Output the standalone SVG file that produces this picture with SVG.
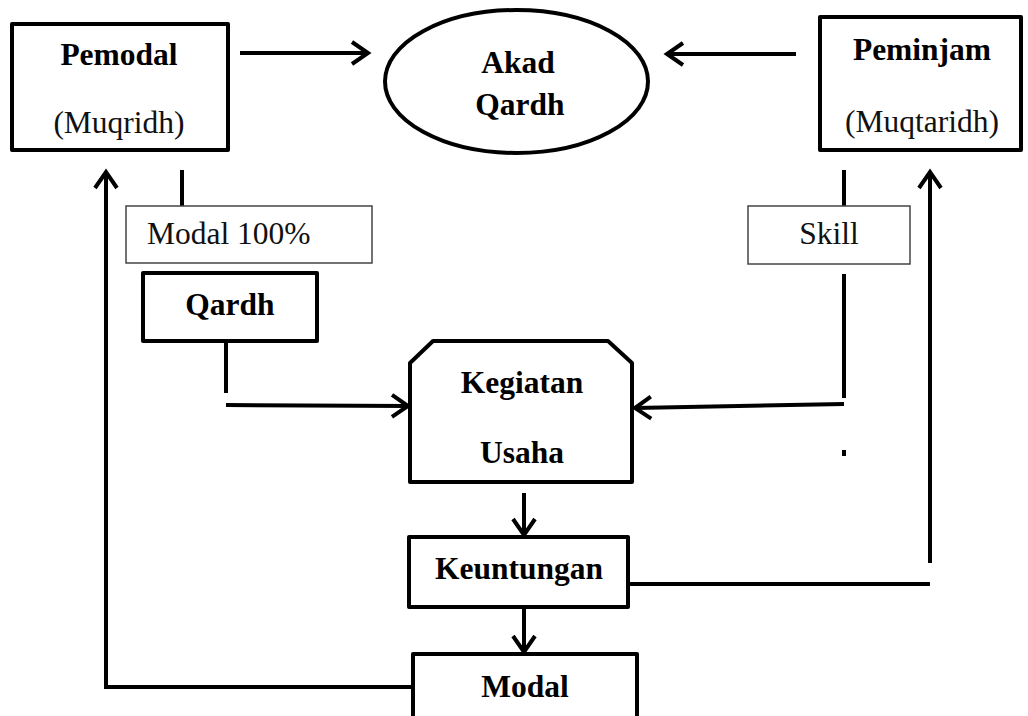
<svg xmlns="http://www.w3.org/2000/svg" width="1028" height="716" viewBox="0 0 1028 716">
<style>
.box{fill:#fff;stroke:#000;stroke-width:4;stroke-linejoin:round}
.thin{fill:#fff;stroke:#444;stroke-width:1.5}
.b{font-family:"Liberation Serif","Times New Roman",serif;font-weight:bold;font-size:31.5px;fill:#000;text-anchor:middle}
.r{font-family:"Liberation Serif","Times New Roman",serif;font-size:31.5px;fill:#111;text-anchor:middle}
.ln{fill:none;stroke:#000;stroke-width:4}
.arr{fill:none;stroke:#000;stroke-width:4;marker-end:url(#ah)}
</style>
<defs>
<marker id="ah" markerUnits="userSpaceOnUse" orient="auto" markerWidth="24" markerHeight="30" viewBox="-20 -15 24 30" refX="0" refY="0">
<path d="M-16,-11 L0,0 L-16,11" fill="none" stroke="#000" stroke-width="4" stroke-linejoin="miter"/>
</marker>
</defs>
<rect width="1028" height="716" fill="#fff"/>
<g id="connectors">
<line class="arr" x1="240" y1="53" x2="368" y2="53"/>
<line class="arr" x1="796" y1="54" x2="667" y2="54"/>
<line class="ln" x1="182" y1="170" x2="182" y2="206"/>
<line class="ln" x1="844" y1="170" x2="844" y2="206"/>
<line class="ln" x1="226" y1="341" x2="226" y2="393"/>
<line class="arr" x1="226" y1="405" x2="408" y2="406"/>
<line class="ln" x1="844" y1="274" x2="844" y2="398"/>
<line class="arr" x1="844" y1="404" x2="635" y2="408"/>
<rect x="842" y="450" width="4" height="6" fill="#000"/>
<line class="arr" x1="524" y1="493" x2="524" y2="535"/>
<line class="arr" x1="524" y1="607" x2="524" y2="652"/>
<line class="ln" x1="630" y1="584" x2="930" y2="584"/>
<line class="arr" x1="930" y1="563" x2="930" y2="172"/>
<polyline class="arr" points="412,687 106,687 106,172"/>
</g>
<g id="pemodal">
<rect class="box" x="12" y="24" width="216" height="126"/>
<text class="b" x="119" y="65">Pemodal</text>
<text class="r" x="119" y="133">(Muqridh)</text>
</g>
<g id="akad">
<ellipse cx="516.5" cy="81.5" rx="131.5" ry="71.5" fill="#fff" stroke="#000" stroke-width="4"/>
<text class="b" x="518" y="73">Akad</text>
<text class="b" x="520" y="115">Qardh</text>
</g>
<g id="peminjam">
<rect class="box" x="820" y="17" width="201" height="133"/>
<text class="b" x="922" y="60">Peminjam</text>
<text class="r" x="922" y="132">(Muqtaridh)</text>
</g>
<g id="modal100">
<rect class="thin" x="126" y="206" width="246" height="57"/>
<text class="r" x="147" y="244" style="text-anchor:start">Modal 100%</text>
</g>
<g id="skill">
<rect class="thin" x="748" y="206" width="162" height="58"/>
<text class="r" x="829" y="244">Skill</text>
</g>
<g id="qardh">
<rect class="box" x="143" y="273" width="174" height="68"/>
<text class="b" x="230" y="315">Qardh</text>
</g>
<g id="kegiatan">
<path class="box" d="M410,363 L433,341 L608,341 L632,363 L632,482 L410,482 Z"/>
<text class="b" x="522" y="393">Kegiatan</text>
<text class="b" x="522" y="463">Usaha</text>
</g>
<g id="keuntungan">
<rect class="box" x="409" y="537" width="219" height="70"/>
<text class="b" x="519" y="579">Keuntungan</text>
</g>
<g id="modal">
<rect class="box" x="413" y="654" width="224" height="70"/>
<text class="b" x="525" y="697">Modal</text>
</g>
</svg>
